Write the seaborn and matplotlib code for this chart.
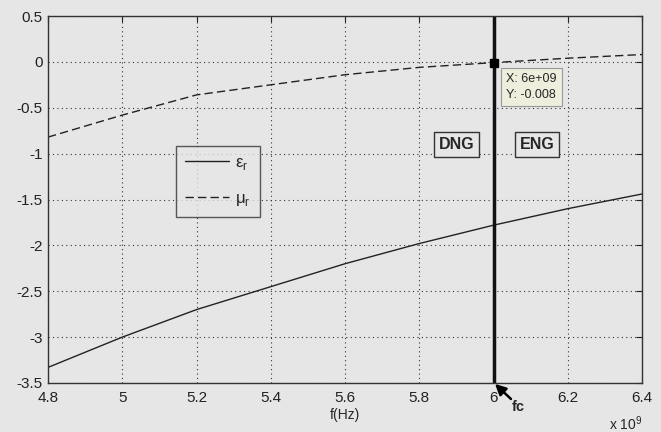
import numpy as np
import pandas as pd
import matplotlib.pyplot as plt
import seaborn as sns

# values
freq = [4.8e9, 5.0e9, 5.2e9, 5.4e9, 5.6e9, 5.8e9, 6.0e9, 6.2e9, 6.4e9]
eps_r = [-3.33, -3.0, -2.7, -2.45, -2.2, -1.98, -1.78, -1.6, -1.44]
mu_r = [-0.82, -0.58, -0.36, -0.25, -0.14, -0.06, -0.008, 0.04, 0.08]
fc = 6.0e9
fc_mu = -0.008

df = pd.DataFrame({'f': freq * 2,
                   'val': eps_r + mu_r,
                   'curve': ['eps'] * len(freq) + ['mu'] * len(freq)})

sns.set_style("white")
plt.rcParams['font.family'] = ['Liberation Sans', 'DejaVu Sans']
plt.rcParams['mathtext.fontset'] = 'custom'
plt.rcParams['mathtext.rm'] = 'Liberation Sans'
bg = '#e6e6e6'
fig = plt.figure(figsize=(6.61, 4.32), dpi=100, facecolor=bg)
ax = fig.add_axes([48 / 661, 1 - 383 / 432, 594 / 661, 367 / 432])
ax.set_facecolor(bg)

sns.lineplot(data=df, x='f', y='val', style='curve', color='#222222',
             dashes={'eps': '', 'mu': (6, 3)}, linewidth=1.0,
             legend=False, ax=ax)

ax.set_xlim(4.8e9, 6.4e9)
ax.set_ylim(-3.5, 0.5)
ax.set_xticks(np.arange(4.8e9, 6.41e9, 0.2e9))
ax.set_xticklabels(['4.8', '5', '5.2', '5.4', '5.6', '5.8', '6', '6.2', '6.4'])
ax.set_yticks(np.arange(-3.5, 0.51, 0.5))
ax.set_yticklabels(['-3.5', '-3', '-2.5', '-2', '-1.5', '-1', '-0.5', '0', '0.5'])
ax.tick_params(direction='in', length=4, top=True, right=True, labelsize=11,
               colors='#222222', pad=4)
ax.tick_params(axis='x', pad=6)
ax.grid(True, color='#333333', linestyle=(0, (1, 3)), linewidth=0.8)
for s in ax.spines.values():
    s.set_color('#333333')
    s.set_linewidth(1.0)
ax.set_xlabel('f(Hz)', fontsize=10, labelpad=2)
ax.set_ylabel('')
ax.text(1.0, -0.085, r'x 10$^9$', transform=ax.transAxes, ha='right', va='top',
        fontsize=10)

# legend
h1, = ax.plot([], [], color='#222222', lw=1.0)
h2, = ax.plot([], [], color='#222222', lw=1.0, dashes=(6, 3))
leg = ax.legend([h1, h2], ['ε$_\\mathrm{r}$', 'μ$_\\mathrm{r}$'], loc='upper left',
                bbox_to_anchor=(128 / 594, (383 - 146) / 367), fontsize=12,
                frameon=True, fancybox=False, handlelength=2.6,
                borderpad=0.55, labelspacing=1.1, handletextpad=0.4,
                borderaxespad=0)
leg.get_frame().set_edgecolor('#333333')
leg.get_frame().set_facecolor(bg)
leg.get_frame().set_linewidth(1.0)

# cutoff line and marker
ax.axvline(fc, color='#111111', lw=2.5)
ax.plot([fc], [fc_mu], marker='s', color='black', ms=6)
ax.text(fc + 0.035e9, -0.12, 'X: 6e+09\nY: -0.008', fontsize=9, va='top',
        linespacing=1.5,
        bbox=dict(boxstyle='square,pad=0.4', fc='#eeeedd', ec='#999999', lw=0.8))

for xx, lab in [(5.9e9, 'DNG'), (6.117e9, 'ENG')]:
    ax.text(xx, -0.9, lab, fontsize=11.5, fontweight='bold', ha='center', va='center',
            bbox=dict(boxstyle='square,pad=0.3', fc=bg, ec='#333333', lw=1.0))

ax.text(6.066e9, -3.76, 'fc', fontsize=10.5, fontweight='bold', ha='center',
        va='center', clip_on=False)
ax.annotate('', xy=(6.004e9, -3.51), xytext=(6.047e9, -3.674), annotation_clip=False,
            arrowprops=dict(arrowstyle='-|>', color='black', lw=1.8,
                            mutation_scale=16, shrinkA=0, shrinkB=0))

plt.savefig('out.png', dpi=100, facecolor=bg)
